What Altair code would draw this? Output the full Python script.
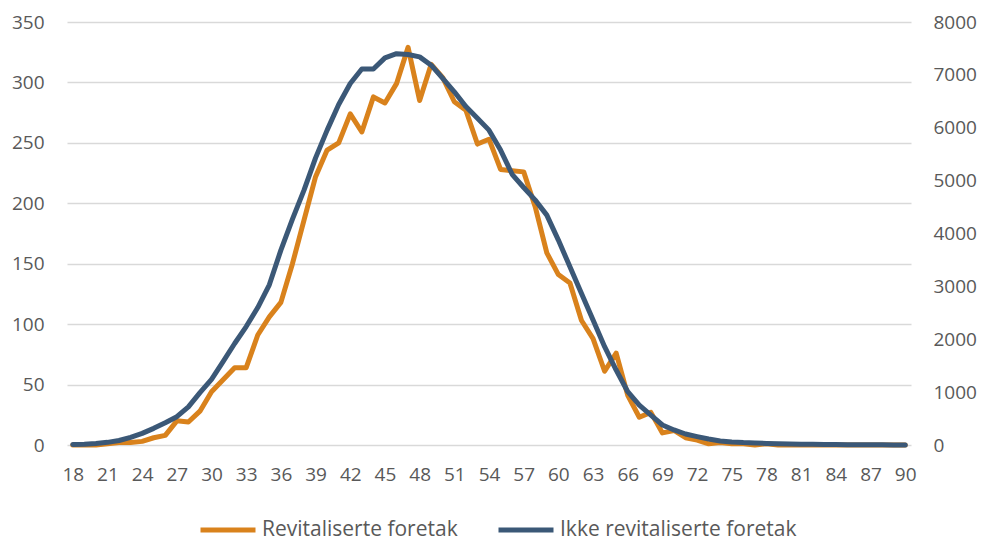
import altair as alt
import pandas as pd

# Age of the founder / firm owner (x categories)
ages = list(range(18, 91))

# Number of revitalised firms by age (left axis)
revitaliserte = [
    0, 0, 0, 1, 2, 2, 3, 6, 8, 20,          # 18-27
    19, 28, 44, 54, 64, 64, 91, 106, 118, 150,  # 28-37
    186, 222, 244, 250, 274, 259, 288, 283, 299, 329,  # 38-47
    285, 315, 304, 284, 277, 249, 253, 228, 227, 226,  # 48-57
    197, 159, 141, 134, 103, 88, 61, 76, 41, 23,  # 58-67
    27, 10, 12, 6, 4, 1, 2, 1, 1, 0,          # 68-77
    1, 0, 0, 0, 0, 0, 0, 0, 0, 0,             # 78-87
    0, 0, 0,                                  # 88-90
]

# Number of non-revitalised firms by age (right axis)
ikke_revitaliserte = [
    10, 15, 30, 50, 85, 145, 220, 315, 420, 535,          # 18-27
    720, 990, 1240, 1575, 1920, 2240, 2600, 3030, 3686, 4270,  # 28-37
    4820, 5430, 5955, 6440, 6837, 7110, 7110, 7322, 7400, 7385,  # 38-47
    7340, 7183, 6932, 6680, 6400, 6180, 5955, 5577, 5120, 4870,  # 48-57
    4631, 4348, 3875, 3371, 2867, 2363, 1860, 1418, 1008, 756,   # 58-67
    567, 378, 284, 208, 158, 113, 76, 57, 45, 38,         # 68-77
    30, 25, 20, 15, 12, 10, 8, 6, 5, 4,                   # 78-87
    3, 2, 2,                                              # 88-90
]

x_ticks = list(range(18, 91, 3))
left_ticks = list(range(0, 351, 50))
right_ticks = list(range(0, 8001, 1000))

series_names = ["Revitaliserte foretak", "Ikke revitaliserte foretak"]
series_colors = ["#D9821C", "#3B5877"]

FONT = "Open Sans"
TEXT_COLOR = "#595959"
GRID_COLOR = "#D9D9D9"
FONT_SIZE = 19
LEGEND_FONT_SIZE = 21

long = pd.concat(
    [
        pd.DataFrame({"alder": ages, "verdi": revitaliserte, "serie": series_names[0]}),
        pd.DataFrame({"alder": ages, "verdi": ikke_revitaliserte, "serie": series_names[1]}),
    ],
    ignore_index=True,
)

x_enc = alt.X(
    "alder:Q",
    scale=alt.Scale(domain=[17.5, 90.5], nice=False, zero=False),
    axis=alt.Axis(
        values=x_ticks, grid=False, domain=False, ticks=False,
        labelPadding=20, title=None, labelFlush=False,
    ),
)

color_enc = alt.Color(
    "serie:N",
    scale=alt.Scale(domain=series_names, range=series_colors),
    legend=alt.Legend(
        title=None,
        orient="none",
        direction="horizontal",
        legendX=131,
        legendY=478,
        padding=0,
        symbolType="stroke",
        symbolSize=3025,
        symbolStrokeWidth=5,
        labelOffset=4,
        columnPadding=30,
        labelFont=FONT,
        labelFontSize=LEGEND_FONT_SIZE,
        labelColor=TEXT_COLOR,
        labelLimit=400,
    ),
)

line_style = dict(strokeWidth=5, strokeJoin="round", strokeCap="round")

left = (
    alt.Chart(long)
    .transform_filter(alt.datum.serie == series_names[0])
    .mark_line(**line_style)
    .encode(
        x=x_enc,
        y=alt.Y(
            "verdi:Q",
            scale=alt.Scale(domain=[0, 350], nice=False),
            axis=alt.Axis(
                orient="left", values=left_ticks, grid=True, gridColor=GRID_COLOR,
                gridWidth=1.5, domain=False, ticks=False, labelPadding=23, title=None,
            ),
        ),
        color=color_enc,
    )
)

right = (
    alt.Chart(long)
    .transform_filter(alt.datum.serie == series_names[1])
    .mark_line(**line_style)
    .encode(
        x=x_enc,
        y=alt.Y(
            "verdi:Q",
            scale=alt.Scale(domain=[0, 8000], nice=False),
            axis=alt.Axis(
                orient="right", values=right_ticks, format="d", grid=False,
                domain=False, ticks=False, labelPadding=22, title=None,
            ),
        ),
        color=color_enc,
    )
)

chart = (
    alt.layer(left, right)
    .resolve_scale(y="independent")
    .properties(
        width=844,
        height=423,
        autosize=alt.AutoSizeParams(type="none"),
        padding={"left": 67, "top": 22, "right": 75, "bottom": 97},
    )
    .configure_view(stroke=None)
    .configure_axis(labelFont=FONT, labelFontSize=FONT_SIZE, labelColor=TEXT_COLOR)
)

chart.save("out.html", embed_options={"renderer": "svg", "actions": False})
